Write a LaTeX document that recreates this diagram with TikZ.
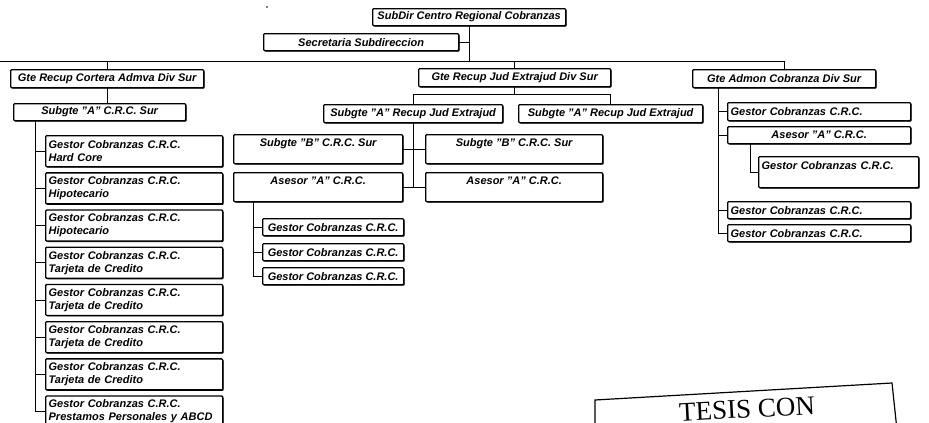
\documentclass[tikz,border=0pt]{standalone}
\usepackage{fontspec}
\setmainfont{Liberation Sans}
\newfontfamily\stampfont{Liberation Serif}
\usetikzlibrary{shadows}
\begin{document}
\begin{tikzpicture}[x=1pt,y=-1pt,
  box/.style={draw, line width=1.3pt, rounded corners=1pt, fill=white,
    inner xsep=3pt, inner ysep=1pt, anchor=north west,
    font=\fontsize{11}{13}\selectfont\bfseries\itshape,
    drop shadow={shadow xshift=1pt, shadow yshift=-1pt, opacity=1, fill=black}},
  cbox/.style={box, align=center},
  lbox/.style={box, align=left},
  conn/.style={line width=0.7pt}]
\fill[white] (0,0) rectangle (929,423);
\useasboundingbox (0,0) rectangle (929,423);
\fill (267,7) circle (0.9);

% top levels
\node[cbox, minimum width=193, minimum height=17] (sub) at (372,8) {SubDir Centro Regional Cobranzas};
\node[cbox, minimum width=195, minimum height=17] (sec) at (263,33) {Secretaria Subdireccion};
\node[cbox, minimum width=193, minimum height=18] (gl) at (10,69) {Gte Recup Cortera Admva Div Sur};
\node[cbox, minimum width=192, minimum height=18] (gm) at (418,68) {Gte Recup Jud Extrajud Div Sur};
\node[cbox, minimum width=183, minimum height=18] (gr) at (692,69) {Gte Admon Cobranza Div Sur};

\coordinate (hl) at (0,61);
\draw[conn] (hl) -- (hl -| gr.north) -- (gr.north);
\draw[conn] (sub.south) -- (sub.south |- hl);
\draw[conn] (sec.east) -- (sec.east -| sub.south);
\draw[conn] (gl.north) -- (gl.north |- hl);
\draw[conn] (gm.north) -- (gm.north |- hl);

% left branch
\node[cbox, minimum width=172, minimum height=17] (sa) at (13,103) {Subgte "A" C.R.C. Sur};
\draw[conn] (gl.south) -- (gl.south |- sa.north);
\foreach \t [count=\i from 0] in {Hard Core, Hipotecario, Hipotecario, Tarjeta de Credito, Tarjeta de Credito, Tarjeta de Credito, Tarjeta de Credito, Prestamos Personales y ABCD} {
  \node[lbox, text width=171, minimum height=31] (lg\i) at (45,{135+37.2*\i}) {Gestor Cobranzas C.R.C.\\\t};
}
\coordinate (lv) at (35,0);
\draw[conn] (sa.south -| lv) -- (lg7.west -| lv) -- (lg7.west);
\foreach \i in {0,...,6} { \draw[conn] (lg\i.west) -- (lg\i.west -| lv); }

% middle branch
\node[cbox, minimum width=179, minimum height=18] (s1) at (323,104) {Subgte "A" Recup Jud Extrajud};
\node[cbox, minimum width=184, minimum height=18] (s2) at (518,104) {Subgte "A" Recup Jud Extrajud};
\coordinate (mh) at (0,94);
\draw[conn] (gm.south) -- (gm.south |- mh);
\draw[conn] (s1.north) -- (s1.north |- mh) -- (s2.north |- mh) -- (s2.north);

\node[cbox, minimum width=169, minimum height=29] (bl) at (233,134) {Subgte "B" C.R.C. Sur\\~};
\node[cbox, minimum width=169, minimum height=29] (al) at (233,172) {Asesor "A" C.R.C.\\~};
\node[cbox, minimum width=177, minimum height=29] (br) at (425,134) {Subgte "B" C.R.C. Sur\\~};
\node[cbox, minimum width=177, minimum height=29] (ar) at (425,172) {Asesor "A" C.R.C.\\~};
\draw[conn] (s1.south) -- (s1.south |- al.east);
\draw[conn] (bl.east) -- (br.west);
\draw[conn] (al.east) -- (ar.west);

\node[cbox, minimum width=141, minimum height=17] (g1) at (262,218) {Gestor Cobranzas C.R.C.};
\node[cbox, minimum width=141, minimum height=17] (g2) at (262,243) {Gestor Cobranzas C.R.C.};
\node[cbox, minimum width=141, minimum height=17] (g3) at (262,267) {Gestor Cobranzas C.R.C.};
\coordinate (mv) at (253,0);
\draw[conn] (al.south -| mv) -- (g3.west -| mv) -- (g3.west);
\draw[conn] (g1.west) -- (g1.west -| mv);
\draw[conn] (g2.west) -- (g2.west -| mv);

% right branch
\node[lbox, text width=177, minimum height=18] (r1) at (727,102) {Gestor Cobranzas C.R.C.};
\node[cbox, minimum width=183, minimum height=17] (r2) at (727,126) {Asesor "A" C.R.C.};
\node[lbox, text width=154, minimum height=31] (r3) at (758,156) {Gestor Cobranzas C.R.C.\\~};
\node[lbox, text width=177, minimum height=17] (r4) at (727,201) {Gestor Cobranzas C.R.C.};
\node[lbox, text width=177, minimum height=17] (r5) at (727,224) {Gestor Cobranzas C.R.C.};
\coordinate (rv) at (718,0);
\draw[conn] (gr.south -| rv) -- (r5.west -| rv) -- (r5.west);
\draw[conn] (r1.west) -- (r1.west -| rv);
\draw[conn] (r2.west) -- (r2.west -| rv);
\draw[conn] (r4.west) -- (r4.west -| rv);
\coordinate (rv2) at (750,0);
\draw[conn] (r2.south -| rv2) -- (r3.west -| rv2) -- (r3.west);

% stamp
\draw[line width=1.2pt] (595,430) -- (595,400) -- (892,383) -- (897,430);
\node[font=\stampfont\fontsize{27}{27}\selectfont, rotate=3, inner sep=0pt] (stamp) at (747,409) {TESIS CON};
\end{tikzpicture}
\end{document}
